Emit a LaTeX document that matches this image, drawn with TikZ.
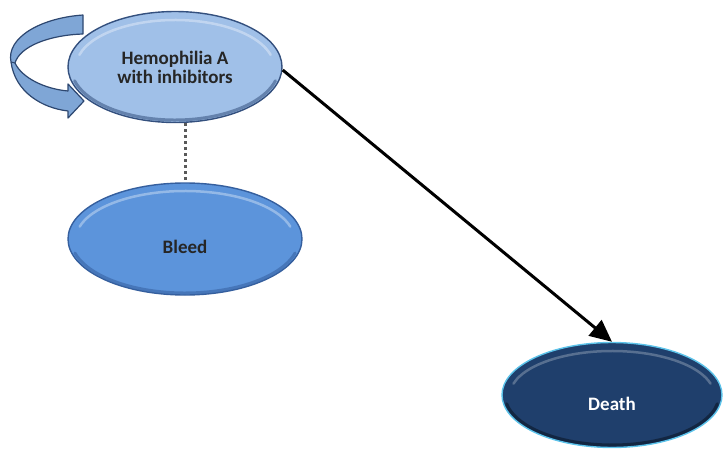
\documentclass[tikz,border=0pt]{standalone}
\usepackage{fontspec}
\setmainfont{Carlito}
\usetikzlibrary{shapes.geometric,arrows.meta}
\definecolor{hemfill}{HTML}{A0C0E8}
\definecolor{hemedge}{HTML}{34507E}
\definecolor{bleedfill}{HTML}{5C94DB}
\definecolor{bleededge}{HTML}{355F9E}
\definecolor{deathfill}{HTML}{1F3F6C}
\definecolor{deathedge}{HTML}{5CC3EA}
\definecolor{loopfill}{HTML}{7FA6D6}
\definecolor{loopedge}{HTML}{2D4770}
\tikzset{
  state/.style={ellipse, inner sep=0pt, line width=1.4pt,
    font=\bfseries\fontsize{19}{19}\selectfont, align=center},
  hemstate/.style={state, fill=hemfill, draw=hemedge, text=black!85},
  bleedstate/.style={state, fill=bleedfill, draw=bleededge, text=black!85},
  deathstate/.style={state, fill=deathfill, draw=deathedge, text=white},
  hilite/.style={line width=2.5pt, draw=white, draw opacity=0.35, line cap=round},
  shade/.style={line width=3pt, draw opacity=0.55, line cap=round},
  trans/.style={line width=3pt, -{Triangle[length=22pt,width=20pt]}},
  link/.style={line width=3pt, draw=black!65, dash pattern=on 3pt off 3pt},
  loopribbon/.style={fill=loopfill, draw=loopedge, line width=1.2pt, line join=round}
}
\newcommand{\lowered}[2]{\raisebox{-#1}[0pt][0pt]{#2}}
\begin{document}
\begin{tikzpicture}[x=1pt,y=-1pt]
\useasboundingbox (0,0) rectangle (724,453);
% states
\node[hemstate, minimum width=214pt, minimum height=111pt] (hem) at (175,67) {Hemophilia A\\with inhibitors};
\node[bleedstate, minimum width=234pt, minimum height=112pt] (bleed) at (185,239) {\lowered{14pt}{Bleed}};
\node[deathstate, minimum width=220pt, minimum height=105pt] (death) at (612,395) {\lowered{15pt}{Death}};
% bevel: light upper inner rim, dark lower outer rim
\draw[hilite] ([shift={(195:99 and 47)}]175,67) arc[start angle=195, end angle=345, x radius=99, y radius=47];
\draw[shade, draw=hemedge] ([shift={(15:104 and 53)}]175,67) arc[start angle=15, end angle=165, x radius=104, y radius=53];
\draw[hilite] ([shift={(195:109 and 48)}]185,239) arc[start angle=195, end angle=345, x radius=109, y radius=48];
\draw[shade, draw=bleededge] ([shift={(15:114 and 54)}]185,239) arc[start angle=15, end angle=165, x radius=114, y radius=54];
\draw[hilite, draw opacity=0.25] ([shift={(195:102 and 44)}]612,395) arc[start angle=195, end angle=345, x radius=102, y radius=44];
\draw[shade, draw=black!70!deathfill] ([shift={(10:107 and 50)}]612,395) arc[start angle=10, end angle=170, x radius=107, y radius=50];
% self loop ribbon arrow
\path[loopribbon] (83,15) .. controls (40,18) and (6,38) .. (11,62)
  .. controls (15,92) and (42,108) .. (68,111)
  -- (68,118) -- (84,101) -- (68,84) -- (68,91)
  .. controls (45,89) and (22,78) .. (15,63)
  .. controls (20,46) and (50,35) .. (83,34) -- cycle;
\draw[loopedge, line width=1pt] (15,63) -- (11,62);
% connectors
\draw[link] (bleed.north |- hem.south) -- (bleed.north);
\draw[trans] (hem.east) ++(0,3) -- (death.north);
\end{tikzpicture}
\end{document}
